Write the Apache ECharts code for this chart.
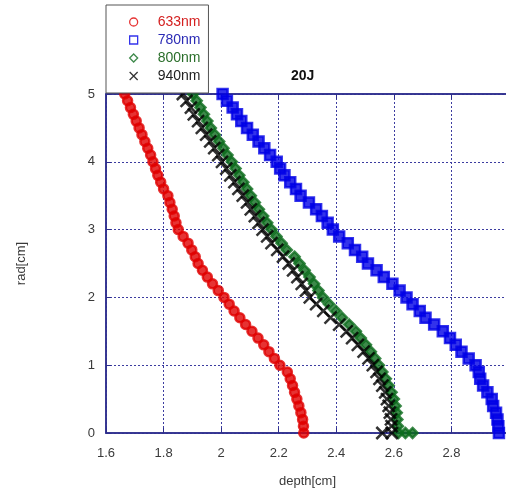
<!DOCTYPE html>
<html>
<head>
<meta charset="utf-8">
<script src="https://cdn.jsdelivr.net/npm/echarts@6/dist/echarts.min.js"></script>
<style>
  html, body { margin: 0; padding: 0; background: #fff; }
  #chart { width: 506px; height: 494px; }
</style>
</head>
<body>
<div id="chart"></div>
<script>
// radius samples (cm), shared by all four curves
var radValues = [5.0, 4.9, 4.8, 4.7, 4.6, 4.5, 4.4, 4.3, 4.2, 4.1,
                 4.0, 3.9, 3.8, 3.7, 3.6, 3.5, 3.4, 3.3, 3.2, 3.1,
                 3.0, 2.9, 2.8, 2.7, 2.6, 2.5, 2.4, 2.3, 2.2, 2.1,
                 2.0, 1.9, 1.8, 1.7, 1.6, 1.5, 1.4, 1.3, 1.2, 1.1,
                 1.0, 0.9, 0.8, 0.7, 0.6, 0.5, 0.4, 0.3, 0.2, 0.1, 0.0];

// depth (cm), one per radius sample
var depth633 = [1.665, 1.675, 1.685, 1.695, 1.705, 1.715, 1.725, 1.735, 1.745, 1.755,
                1.763, 1.772, 1.780, 1.790, 1.800, 1.815, 1.822, 1.830, 1.837, 1.843,
                1.851, 1.868, 1.885, 1.898, 1.910, 1.920, 1.935, 1.952, 1.970, 1.990,
                2.010, 2.028, 2.045, 2.065, 2.085, 2.107, 2.128, 2.148, 2.166, 2.185,
                2.204, 2.230, 2.240, 2.248, 2.255, 2.263, 2.270, 2.277, 2.283, 2.286, 2.287];
var depth780 = [2.005, 2.020, 2.040, 2.055, 2.070, 2.090, 2.110, 2.130, 2.150, 2.170,
                2.193, 2.205, 2.220, 2.240, 2.260, 2.276, 2.305, 2.330, 2.350, 2.370,
                2.388, 2.410, 2.440, 2.465, 2.490, 2.510, 2.540, 2.565, 2.595, 2.620,
                2.644, 2.665, 2.690, 2.710, 2.740, 2.770, 2.795, 2.815, 2.835, 2.860,
                2.884, 2.895, 2.900, 2.910, 2.925, 2.940, 2.945, 2.955, 2.960, 2.963, 2.965];
var depth800 = [1.902, 1.915, 1.928, 1.940, 1.952, 1.964, 1.978, 1.993, 2.008, 2.022,
                2.037, 2.050, 2.063, 2.077, 2.090, 2.103, 2.117, 2.131, 2.146, 2.160,
                2.175, 2.192, 2.210, 2.228, 2.255, 2.272, 2.290, 2.307, 2.323, 2.338,
                2.354, 2.375, 2.398, 2.420, 2.445, 2.468, 2.485, 2.503, 2.520, 2.535,
                2.548, 2.560, 2.572, 2.582, 2.592, 2.600, 2.606, 2.610, 2.612, 2.614, 2.616];
var depth940 = [1.867, 1.880, 1.895, 1.905, 1.920, 1.933, 1.948, 1.962, 1.976, 1.990,
                2.003, 2.018, 2.032, 2.046, 2.060, 2.075, 2.090, 2.103, 2.117, 2.130,
                2.144, 2.160, 2.175, 2.195, 2.215, 2.235, 2.250, 2.265, 2.280, 2.295,
                2.308, 2.330, 2.355, 2.380, 2.410, 2.436, 2.455, 2.475, 2.495, 2.512,
                2.527, 2.540, 2.550, 2.560, 2.570, 2.576, 2.582, 2.586, 2.590, 2.592, 2.593];

// stray points lying on rad = 0
var extra800 = [[2.640, 0], [2.665, 0]];
var extra940 = [[2.560, 0]];

var seriesNames = ['633nm', '780nm', '800nm', '940nm'];
var seriesColors = ['#e00000', '#0000e6', '#0d6b1d', '#000000'];
var legendColors = ['#d42020', '#2b2bb5', '#2a6e2a', '#222222'];
var xTicks = { min: 1.6, max: 3.0, interval: 0.2 };
var yTicks = { min: 0, max: 5, interval: 1 };

function pairs(depths, extra) {
    var out = [];
    for (var i = 0; i < radValues.length; i++) {
        out.push([depths[i], radValues[i]]);
    }
    return out.concat(extra || []);
}

var crossPath = 'path://M0,0L10,10M10,0L0,10';
var seriesData = [pairs(depth633), pairs(depth780), pairs(depth800, extra800), pairs(depth940, extra940)];
var symbols = ['circle', 'rect', 'diamond', crossPath];
var sizes = [9, 10, 10, 12];
var borders = [2.5, 2.5, 2.5, 2.5];
// markers pile up into solid bands in the source, so fill them (not the cross)
var fills = [true, true, true, false];

var series = [];
for (var s = 0; s < seriesNames.length; s++) {
    series.push({
        name: seriesNames[s],
        type: 'scatter',
        symbol: symbols[s],
        symbolSize: sizes[s],
        data: seriesData[s],
        itemStyle: {
            color: fills[s] ? seriesColors[s] : 'rgba(0,0,0,0)',
            borderColor: seriesColors[s],
            borderWidth: borders[s]
        },
        emphasis: { disabled: true }
    });
}

// legend keeps the hollow markers
var legendData = seriesNames.map(function (n, i) {
    return {
        name: n,
        textStyle: { color: legendColors[i] },
        itemStyle: { color: 'rgba(0,0,0,0)', borderColor: seriesColors[i], borderWidth: 1.3 }
    };
});

var axisColor = '#2d2d8c';
var labelStyle = { color: '#3a3a3a', fontSize: 13, fontFamily: 'Liberation Sans, Arial, sans-serif' };

var option = {
    backgroundColor: '#fff',
    animation: false,
    title: {
        text: '20J',
        left: 286,
        top: 64,
        textStyle: { fontSize: 14, fontWeight: 'bold', color: '#111', fontFamily: 'Liberation Sans, Arial, sans-serif' }
    },
    legend: {
        orient: 'vertical',
        left: 106,
        top: 5,
        padding: [10, 8, 10, 23],
        itemWidth: 8,
        itemHeight: 8,
        itemGap: 4,
        backgroundColor: '#fff',
        borderColor: '#555',
        borderWidth: 1,
        textStyle: { fontSize: 14, padding: [0, 0, 0, 15], fontFamily: 'Liberation Sans, Arial, sans-serif' },
        data: legendData,
        z: 10
    },
    grid: {
        left: 106,
        top: 94,
        right: -3,
        bottom: 61,
        outerBoundsMode: 'none',
        containLabel: false,
        show: true,
        borderColor: axisColor,
        borderWidth: 1.5
    },
    xAxis: [{
        type: 'value',
        min: xTicks.min,
        max: xTicks.max,
        interval: xTicks.interval,
        name: 'depth[cm]',
        nameLocation: 'middle',
        nameGap: 42,
        nameTextStyle: labelStyle,
        axisLine: { lineStyle: { color: axisColor, width: 1.5 } },
        axisTick: { inside: true, length: 5, lineStyle: { color: axisColor } },
        axisLabel: Object.assign({ margin: 14 }, labelStyle),
        splitLine: { lineStyle: { color: '#3c3ca0', type: [2, 2], width: 1 } }
    }, {
        type: 'value',
        position: 'top',
        min: xTicks.min,
        max: xTicks.max,
        interval: xTicks.interval,
        axisLine: { lineStyle: { color: axisColor, width: 1.5 } },
        axisTick: { inside: true, length: 5, lineStyle: { color: axisColor } },
        axisLabel: { show: false },
        splitLine: { show: false }
    }],
    yAxis: {
        type: 'value',
        min: yTicks.min,
        max: yTicks.max,
        interval: yTicks.interval,
        name: 'rad[cm]',
        nameLocation: 'middle',
        nameGap: 78,
        nameTextStyle: labelStyle,
        axisLine: { lineStyle: { color: axisColor, width: 1.5 } },
        axisTick: { inside: true, length: 5, lineStyle: { color: axisColor } },
        axisLabel: Object.assign({ margin: 11 }, labelStyle),
        splitLine: { lineStyle: { color: '#3c3ca0', type: [2, 2], width: 1 } }
    },
    series: series
};

var chart = echarts.init(document.getElementById('chart'));
chart.setOption(option);
</script>
</body>
</html>
